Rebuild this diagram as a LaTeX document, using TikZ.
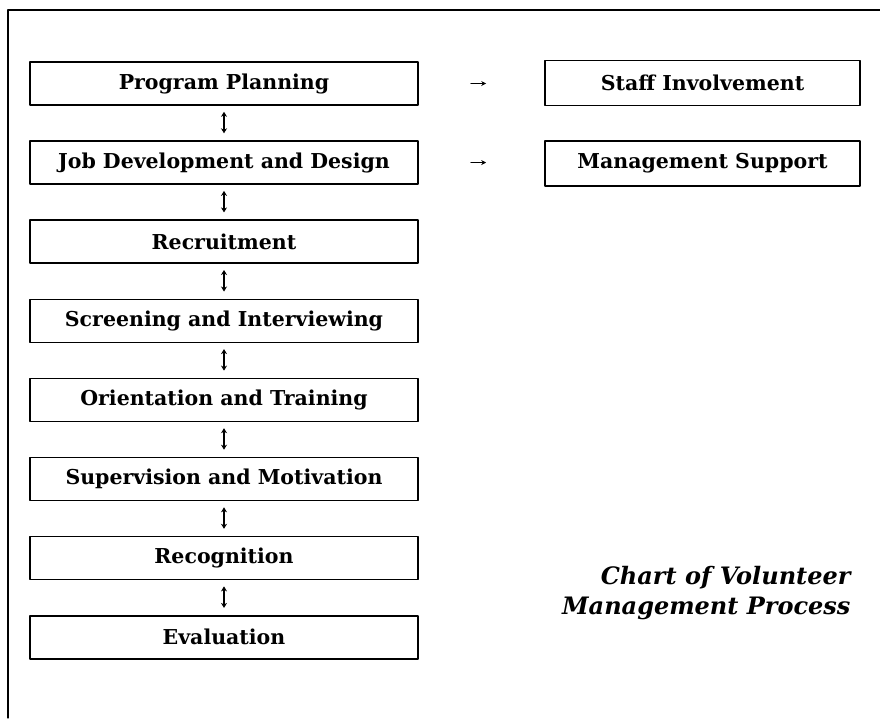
\documentclass[tikz,border=0pt]{standalone}
\usepackage{fontspec}
\setmainfont{DejaVu Serif}
\usetikzlibrary{arrows.meta}
\usetikzlibrary{positioning}

\begin{document}
\begin{tikzpicture}[x=1pt,y=-1pt,line cap=round,line join=round,
  stage/.style={draw,line width=1.6pt,minimum width=388pt,minimum height=43pt,
    inner sep=0pt,font=\fontsize{20.5}{24}\selectfont\bfseries},
  side/.style={stage,minimum width=315pt,minimum height=45pt},
  link/.style={line width=1.3pt,{Stealth[length=5pt,width=6pt]}-{Stealth[length=5pt,width=6pt]},
    shorten <=6pt,shorten >=7pt},
  feed/.style={line width=1.1pt,-{Stealth[length=5pt,width=5pt]},shorten <=52pt,shorten >=58pt},
  node distance=34.5pt]
\useasboundingbox (0,0) rectangle (880,718);
% outer frame
\draw[line width=1.2pt] (8,718) -- (8,10) -- (880,10);

% main chain
\node[stage] (pp) at (224,83.5) {Program Planning};
\node[stage,below=of pp] (jd) {Job Development and Design};
\node[stage,below=of jd] (rc) {Recruitment};
\node[stage,below=of rc] (si) {Screening and Interviewing};
\node[stage,below=of si] (ot) {Orientation and Training};
\node[stage,below=of ot] (sm) {Supervision and Motivation};
\node[stage,below=of sm] (rg) {Recognition};
\node[stage,below=of rg] (ev) {Evaluation};
\foreach \a/\b in {pp/jd,jd/rc,rc/si,si/ot,ot/sm,sm/rg,rg/ev}
\draw[link] (\a) -- (\b);

% side boxes
\node[side] (staff) at (702.5,83) {Staff Involvement};
\node[side,below=34pt of staff] (mgmt) {Management Support};
\draw[feed] (pp.east) -- (staff.west |- pp.east);
\draw[feed] (jd.east) -- (mgmt.west |- jd.east);

\node[anchor=north east,align=right,font=\fontsize{24}{30}\selectfont\bfseries\itshape]
  (title) at (854,563) {Chart of Volunteer\\Management Process};
\end{tikzpicture}
\end{document}
